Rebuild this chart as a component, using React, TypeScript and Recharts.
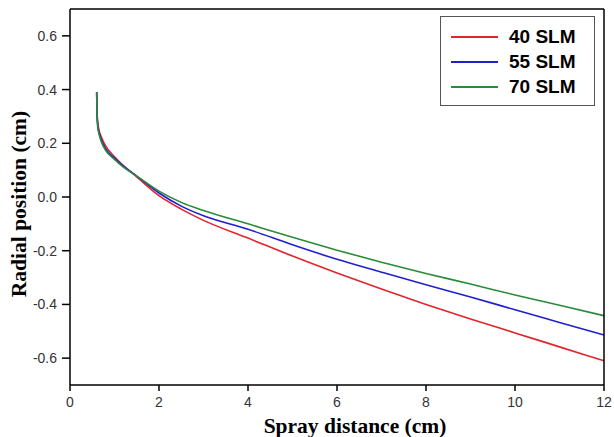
import { LineChart, Line, XAxis, YAxis } from 'recharts'

const DISTANCE = [0.6, 0.605, 0.61, 0.62, 0.65, 0.7, 0.8, 1.0, 1.2, 1.5, 2, 2.5, 3, 4, 5, 6, 7, 8, 9, 10, 11, 12]
const SLM40 = [0.39, 0.34, 0.31, 0.285, 0.25, 0.225, 0.19, 0.15, 0.117, 0.075, 0.005, -0.045, -0.087, -0.153, -0.22, -0.283, -0.343, -0.4, -0.454, -0.506, -0.558, -0.61]
const SLM55 = [0.39, 0.33, 0.3, 0.275, 0.243, 0.215, 0.18, 0.145, 0.115, 0.078, 0.015, -0.034, -0.07, -0.12, -0.178, -0.232, -0.28, -0.327, -0.372, -0.42, -0.467, -0.514]
const SLM70 = [0.39, 0.32, 0.29, 0.265, 0.236, 0.208, 0.174, 0.14, 0.111, 0.078, 0.022, -0.02, -0.05, -0.1, -0.15, -0.198, -0.243, -0.285, -0.324, -0.365, -0.403, -0.442]
const X_TICKS = [0, 2, 4, 6, 8, 10, 12]
const Y_TICKS = [-0.6, -0.4, -0.2, 0.0, 0.2, 0.4, 0.6]

const SERIES = [
  { key: 'slm40', name: '40 SLM', color: '#e4232b' },
  { key: 'slm55', name: '55 SLM', color: '#1f1fcf' },
  { key: 'slm70', name: '70 SLM', color: '#2b8a38' },
]

const data = DISTANCE.map((x, i) => ({ x, slm40: SLM40[i], slm55: SLM55[i], slm70: SLM70[i] }))

const tickStyle = { fontSize: 14, fill: '#333', fontFamily: 'Liberation Sans, Arial, sans-serif' }
const serifBold = { fontSize: 21.5, fontWeight: 700, fill: '#000', fontFamily: 'Liberation Serif, Times New Roman, serif' }

const XLabel = () => (
  <text x={355} y={433} textAnchor="middle" style={serifBold}>Spray distance (cm)</text>
)
const YLabel = () => (
  <text x={26} y={204} transform="rotate(-90, 26, 204)" textAnchor="middle" style={serifBold}>Radial position (cm)</text>
)

const LegendBox = () => (
  <div style={{ position: 'absolute', left: 440, top: 16, width: 155, height: 90, border: '1.5px solid #555', background: '#fff', padding: '7px 0 4px 10px', boxSizing: 'border-box' }}>
    {SERIES.map(s => (
      <div key={s.key} style={{ display: 'flex', alignItems: 'center', height: 25 }}>
        <div style={{ width: 47, height: 2, background: s.color, marginRight: 11 }} />
        <span style={{ fontFamily: 'Liberation Sans, Arial, sans-serif', fontWeight: 700, fontSize: 19, color: '#000' }}>{s.name}</span>
      </div>
    ))}
  </div>
)

export default function App() {
  return (
    <div style={{ position: 'absolute', left: 0, top: 0, width: 614, height: 437, background: '#fff' }}>
      <LineChart width={614} height={437} data={data} margin={{ top: 8, right: 9, left: 0, bottom: 0 }}>
        <XAxis
          type="number" dataKey="x" domain={[0, 12]} ticks={X_TICKS} height={52}
          stroke="#000" strokeWidth={1.5} tickSize={6} tickMargin={6} tick={tickStyle}
          label={<XLabel />}
        />
        <XAxis xAxisId="top" orientation="top" type="number" dataKey="x" domain={[0, 12]} height={1}
          stroke="#000" strokeWidth={1.5} tick={false} tickLine={false} />
        <YAxis
          type="number" domain={[-0.7, 0.7]} ticks={Y_TICKS} width={70}
          stroke="#000" strokeWidth={1.5} tickSize={8} tickMargin={5} tick={tickStyle}
          tickFormatter={(v: number) => v.toFixed(1)}
          label={<YLabel />}
        />
        <YAxis yAxisId="right" orientation="right" type="number" domain={[-0.7, 0.7]} width={1}
          stroke="#000" strokeWidth={1.5} tick={false} tickLine={false} />
        {SERIES.map(s => (
          <Line key={s.key} type="monotone" dataKey={s.key} name={s.name} stroke={s.color} strokeWidth={1.6} dot={false} isAnimationActive={false} />
        ))}
      </LineChart>
      <LegendBox />
    </div>
  )
}
